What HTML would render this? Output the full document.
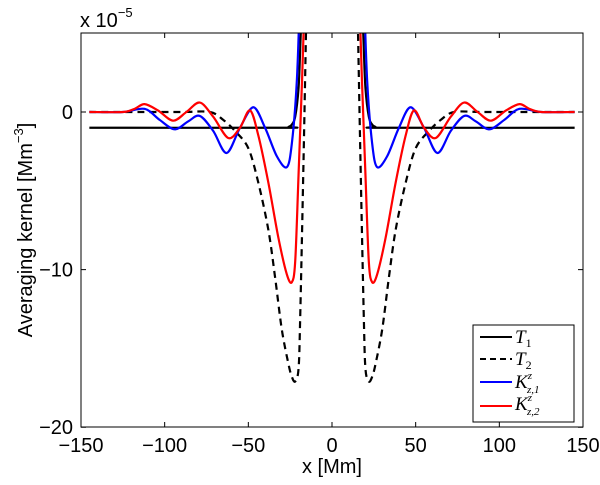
<!DOCTYPE html>
<html><head><meta charset="utf-8"><style>
body{margin:0;background:#fff}
svg{font-family:"Liberation Sans",sans-serif}
</style></head><body>
<svg width="600" height="480" viewBox="0 0 600 480">
<defs><clipPath id="pc"><rect x="81" y="33" width="502" height="394"/></clipPath></defs>
<rect x="81" y="33" width="502" height="394" fill="#fff" stroke="none"/>
<g id="ticks"></g>
<g id="series" clip-path="url(#pc)"></g>
<rect x="81" y="33" width="502" height="394" fill="none" stroke="#000" stroke-width="1"/>
<text x="80" y="27" font-size="20">x 10<tspan dy="-10" font-size="13">−5</tspan></text>
<text transform="translate(32,230) rotate(-90)" text-anchor="middle" font-size="20">Averaging kernel [Mm<tspan dy="-9" font-size="13">−3</tspan><tspan dy="9">]</tspan></text>
<text x="332" y="473" text-anchor="middle" font-size="20">x [Mm]</text>
<g>
<rect x="473" y="325" width="101" height="97" fill="#fff" stroke="#000" stroke-width="1"/>
<g><line x1="480" y1="337" x2="512" y2="337" stroke="#000" stroke-width="2"/><text x="515" y="343" font-family="Liberation Serif,serif" font-style="italic" font-size="19">T<tspan font-style="normal" font-size="12" dy="4">1</tspan></text></g>
<g><line x1="480" y1="359" x2="512" y2="359" stroke="#000" stroke-width="2" stroke-dasharray="6,4"/><text x="515" y="365" font-family="Liberation Serif,serif" font-style="italic" font-size="19">T<tspan font-style="normal" font-size="12" dy="4">2</tspan></text></g>
<g><line x1="480" y1="382" x2="512" y2="382" stroke="#0000ff" stroke-width="2"/><text x="515" y="388" font-family="Liberation Serif,serif" font-style="italic" font-size="19">K<tspan font-size="11" dy="-9">z</tspan><tspan font-size="11" dx="-5" dy="14">z,1</tspan></text></g>
<g><line x1="480" y1="406" x2="512" y2="406" stroke="#ff0000" stroke-width="2"/><text x="515" y="410" font-family="Liberation Serif,serif" font-style="italic" font-size="19">K<tspan font-size="11" dy="-9">z</tspan><tspan font-size="11" dx="-5" dy="14">z,2</tspan></text></g>
</g>
</svg>
<script>
const xTicks=[-150,-100,-50,0,50,100,150];
const yTicks=[0,-10,-20];
const t1X=[-145,-30,-26,-24,-22,-20,-19,-17,-14,14,17,19,20,22,24,26,30,145];
const t1Y=[-1,-1,-0.95,-0.8,-0.3,1.5,4,10,20,20,10,4,1.5,-0.3,-0.8,-0.95,-1,-1];
const t2X=[-145,-115,-90,-73,-65,-58,-50,-44,-38,-34,-30,-26,-24,-22,-20,-19,-17,-15,-13,13,15,17,19,20,22,24,26,30,34,38,44,50,58,65,73,90,115,145];
const t2Y=[0,0,0,0,-0.5,-1.2,-2.3,-4.5,-7.5,-10.5,-13.8,-16,-16.8,-17.1,-16.3,-13,-3,8,18,18,8,-3,-13,-16.3,-17.1,-16.8,-16,-13.8,-10.5,-7.5,-4.5,-2.3,-1.2,-0.5,0,0,0,0];
const k1X=[-145,-125,-112,-103,-94,-86,-79,-71,-63,-55,-47,-40,-33,-27,-24,-21,-19,-17,17,19,21,24,27,33,40,47,55,63,71,79,86,94,103,112,125,145];
const k1Y=[0,0,0.2,-0.5,-1.1,-0.6,-0.25,-1.2,-2.6,-1,0.3,-1,-2.8,-3.5,-2,2,8,15,15,8,2,-2,-3.5,-2.8,-1,0.3,-1,-2.6,-1.2,-0.25,-0.6,-1.1,-0.5,0.2,0,0];
const k2X=[-145,-125,-118,-112,-104,-95,-87,-79,-71,-62,-55,-49,-44,-38,-32,-27,-24,-22,-20,-17,-15,15,17,20,22,24,27,32,38,44,49,55,62,71,79,87,95,104,112,118,125,145];
const k2Y=[0,0,0.2,0.5,0.1,-0.55,0,0.6,-0.3,-1.65,-1,0.1,-1.5,-4.5,-8,-10.3,-10.8,-9.5,-4,5,15,15,5,-4,-9.5,-10.8,-10.3,-8,-4.5,-1.5,0.1,-1,-1.65,-0.3,0.6,0,-0.55,0.1,0.5,0.2,0,0];
const NS='http://www.w3.org/2000/svg';
function sx(v){return 332+v*(502/300);}
function sy(v){return 112-v*(394/25);}
const tg=document.getElementById('ticks');
xTicks.forEach(function(t){
  const l=document.createElementNS(NS,'path');
  l.setAttribute('d','M'+sx(t)+',427v-5M'+sx(t)+',33v5');
  l.setAttribute('stroke','#000');
  
  
  tg.appendChild(l);
  const tx=document.createElementNS(NS,'text');
  tx.setAttribute('x',sx(t));tx.setAttribute('y',452);tx.setAttribute('text-anchor','middle');tx.setAttribute('font-size','20');
  tx.textContent=t<0?'−'+(-t):String(t);
  
  
  tg.appendChild(tx);
});
yTicks.forEach(function(t){
  const l=document.createElementNS(NS,'path');
  l.setAttribute('d','M81,'+sy(t)+'h5M583,'+sy(t)+'h-5');
  l.setAttribute('stroke','#000');
  
  
  tg.appendChild(l);
  const tx=document.createElementNS(NS,'text');
  tx.setAttribute('x',73);tx.setAttribute('y',sy(t)+7);tx.setAttribute('text-anchor','end');tx.setAttribute('font-size','20');
  tx.textContent=t<0?'−'+(-t):String(t);
  
  
  tg.appendChild(tx);
});
function pathD(xs,ys){
  const p=xs.map(function(x,i){return [sx(x),sy(ys[i])];});
  let d='M'+p[0][0]+','+p[0][1];
  for(let i=0;i<p.length-1;i++){
    const p0=p[i-1]||p[i],p1=p[i],p2=p[i+1],p3=p[i+2]||p2;
    const k=0.16;
    d+='C'+(p1[0]+(p2[0]-p0[0])*k)+','+(p1[1]+(p2[1]-p0[1])*k)+' '+(p2[0]-(p3[0]-p1[0])*k)+','+(p2[1]-(p3[1]-p1[1])*k)+' '+p2[0]+','+p2[1];
  }
  return d;
}
const sg=document.getElementById('series');
function draw(xs,ys,col,dash,name){
  const el=document.createElementNS(NS,'path');
  el.setAttribute('d',pathD(xs,ys));
  el.setAttribute('fill','none');el.setAttribute('stroke',col);el.setAttribute('stroke-width','2.2');
  if(dash)el.setAttribute('stroke-dasharray',dash);
  
  
  sg.appendChild(el);
}
draw(t2X,t2Y,'#000','7,5','series-t2');
draw(t1X,t1Y,'#000',null,'series-t1');
draw(k1X,k1Y,'#0000ff',null,'series-k1');
draw(k2X,k2Y,'#ff0000',null,'series-k2');
</script>
</body></html>
